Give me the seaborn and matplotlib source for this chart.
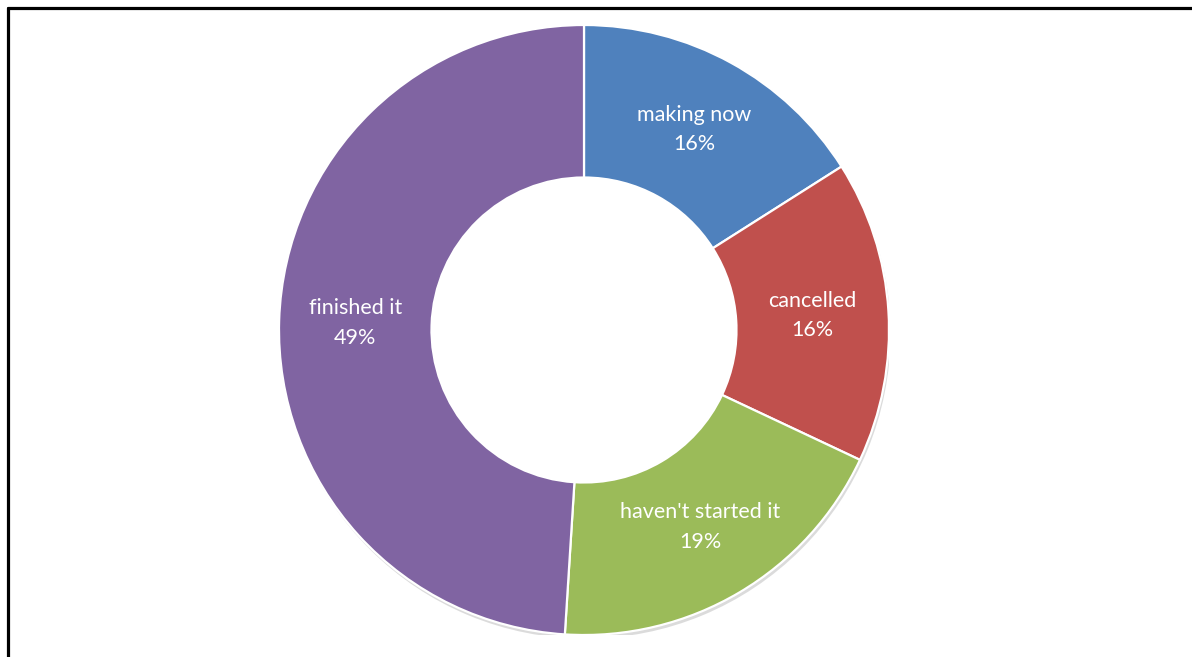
import matplotlib
matplotlib.use("Agg")
import matplotlib.pyplot as plt
from matplotlib.lines import Line2D
from matplotlib.patches import Wedge
import numpy as np
import seaborn as sns

# Status of the project among respondents
categories = ["making now", "cancelled", "haven't started it", "finished it"]
shares = [16, 16, 19, 49]
colors = ["#4F81BD", "#C0504D", "#9BBB59", "#8064A2"]

sns.set_theme(style="white")
plt.rcParams["font.family"] = ["Lato", "DejaVu Sans"]

W, H = 1192, 657
fig = plt.figure(figsize=(W / 100, H / 100), dpi=100)
fig.patch.set_facecolor("white")

# square axes holding the ring (outer radius 305 px, centred at 584, 330)
cx, cy, R = 584, 330, 305
ax = fig.add_axes([(cx - R) / W, (H - cy - R) / H, 2 * R / W, 2 * R / H])
ax.set_axis_off()

# soft shadow under the outer edge of the ring
ax.add_patch(Wedge((0.005, -0.012), 1.0, 0, 360, width=0.46,
                   facecolor="#9a9a9a", alpha=0.35, edgecolor="none", zorder=0))

labels = [f"{c}\n{s}%" for c, s in zip(categories, shares)]
wedges, _ = ax.pie(
    shares,
    colors=colors,
    startangle=90,
    counterclock=False,
    radius=1.0,
    wedgeprops=dict(width=0.5, edgecolor="white", linewidth=1.6, zorder=1),
)

# labels at the middle of the ring
for w, lab in zip(wedges, labels):
    mid = np.deg2rad((w.theta1 + w.theta2) / 2)
    r = 0.75
    ax.text(r * np.cos(mid), r * np.sin(mid), lab, ha="center", va="center",
            color="white", fontsize=15.5, linespacing=1.6)

ax.set_xlim(-1, 1)
ax.set_ylim(-1, 1)
ax.set_aspect("equal")

# border of the figure box
lw = 2.3
fig.add_artist(Line2D([8 / W, 1.0], [1 - 7.5 / H, 1 - 7.5 / H],
                      color="black", linewidth=lw, transform=fig.transFigure))
fig.add_artist(Line2D([8 / W, 8 / W], [0.0, 1 - 7.5 / H],
                      color="black", linewidth=lw, transform=fig.transFigure))

fig.savefig("out.png", dpi=100, facecolor="white")
